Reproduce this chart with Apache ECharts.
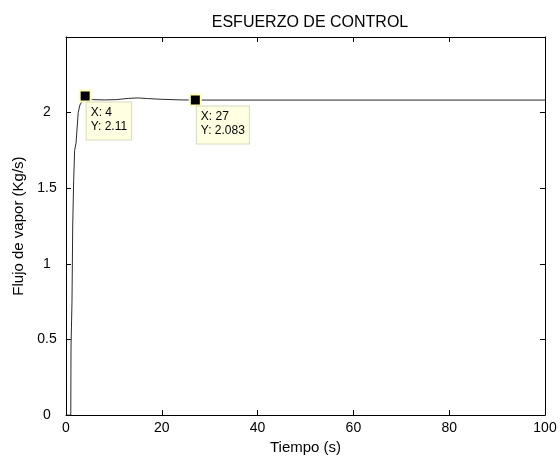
<!DOCTYPE html>
<html>
<head>
<meta charset="utf-8">
<script src="https://cdn.jsdelivr.net/npm/echarts@6/dist/echarts.min.js"></script>
<style>
  html, body { margin: 0; padding: 0; background: #fff; }
  #chart { width: 560px; height: 460px; }
</style>
</head>
<body>
<div id="chart"></div>
<script>
// ===== datos =====
const tiempo = [0, 1, 1.05, 1.25, 1.4, 1.6, 1.8, 2.1, 2.55, 2.9, 4, 5.5, 8, 10.5, 13, 15, 17, 20, 24, 27, 100];
const flujo  = [0, 0, 0.45, 0.75, 1.25, 1.55, 1.75, 1.8, 2.0, 2.05, 2.11, 2.086, 2.084, 2.086, 2.094, 2.097, 2.093, 2.088, 2.084, 2.083, 2.083];

// datatips (X, Y)
const tipX = [4, 27];
const tipY = [2.11, 2.083];

const xTicks = { min: 0, max: 100, interval: 20 };
const yTicks = { min: 0, max: 2.5, interval: 0.5 };

const FONT = "Liberation Sans";

const chart = echarts.init(document.getElementById("chart"));

// ejes del marco (estilo matlab: ticks hacia dentro)
const frameAxis = (extra) => Object.assign({
  type: "value",
  axisLine: { show: true, onZero: false, lineStyle: { color: "#000", width: 1 } },
  axisTick: { show: true, inside: true, length: 5, lineStyle: { color: "#000" } },
  splitLine: { show: false },
  axisLabel: { show: false }
}, extra);

chart.setOption({
  backgroundColor: "#fff",
  animation: false,
  title: {
    text: "ESFUERZO DE CONTROL",
    left: 305,
    top: 10,
    textAlign: "center",
    textStyle: { fontFamily: FONT, fontSize: 16, fontWeight: "normal", color: "#000" }
  },
  grid: { left: 66, right: 15, top: 37, bottom: 44 },
  xAxis: [
    frameAxis(Object.assign({}, xTicks, {
      position: "bottom",
      name: "Tiempo (s)",
      nameLocation: "middle",
      nameGap: 22,
      nameTextStyle: { fontFamily: FONT, fontSize: 15, color: "#000" },
      axisLabel: { show: true, margin: 6, fontFamily: FONT, fontSize: 14, color: "#000" }
    })),
    frameAxis(Object.assign({}, xTicks, { position: "top" }))
  ],
  yAxis: [
    frameAxis(Object.assign({}, yTicks, {
      position: "left",
      name: "Flujo de vapor (Kg/s)",
      nameLocation: "middle",
      nameGap: 40,
      nameTextStyle: { fontFamily: FONT, fontSize: 15, color: "#000" },
      axisLabel: {
        show: true, margin: 19, align: "center", fontFamily: FONT, fontSize: 14, color: "#000",
        formatter: (v) => (v >= 2.5 ? "" : String(v))
      }
    })),
    frameAxis(Object.assign({}, yTicks, { position: "right" }))
  ],
  series: [
    {
      type: "line",
      data: tiempo.map((t, i) => [t, flujo[i]]),
      showSymbol: false,
      lineStyle: { color: "#2b2b2b", width: 1 },
      markPoint: {
        symbol: "rect",
        symbolSize: 11,
        itemStyle: { color: "#000", borderColor: "#ffffb8", borderWidth: 2 },
        label: {
          show: true,
          position: [8, 13],
          align: "left",
          verticalAlign: "top",
          fontFamily: FONT,
          fontSize: 12,
          lineHeight: 14,
          color: "#000",
          backgroundColor: "#ffffe1",
          borderColor: "#d8d8c0",
          borderWidth: 1,
          padding: [3, 4, 6, 4],
          formatter: (p) => "X: " + p.data.coord[0] + "\nY: " + p.data.coord[1]
        },
        data: tipX.map((x, i) => ({ coord: [x, tipY[i]] }))
      }
    }
  ]
});
</script>
</body>
</html>
